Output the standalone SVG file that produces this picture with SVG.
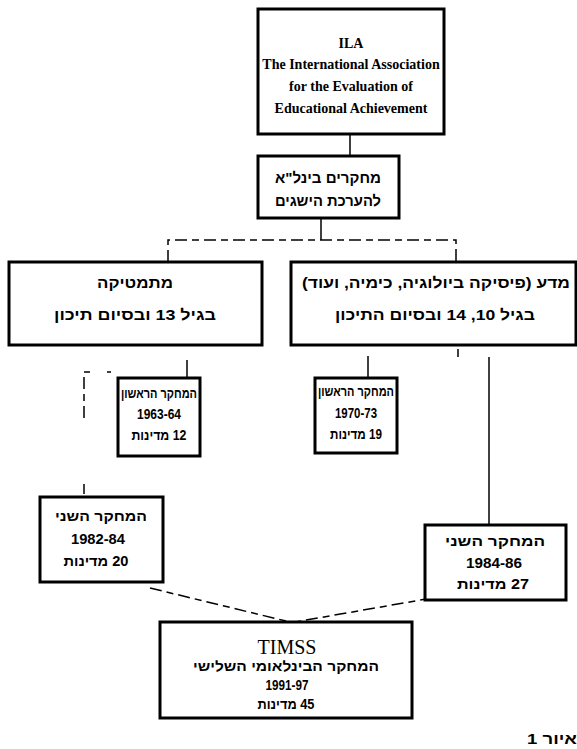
<svg xmlns="http://www.w3.org/2000/svg" width="577" height="749" viewBox="0 0 577 749">
<style>
.box{fill:#fff;stroke:#000;stroke-width:3}
.en{font-family:"Liberation Serif","DejaVu Serif",serif;font-size:14px;font-weight:bold;text-anchor:middle;fill:#000}
.he{font-family:"Liberation Sans","DejaVu Sans",sans-serif;font-size:15px;font-weight:bold;text-anchor:middle;fill:#000;direction:rtl}
.sm{font-size:14px}
.ln{fill:none;stroke:#000;stroke-width:1.5}
.dash{fill:none;stroke:#000;stroke-width:1.5;stroke-dasharray:12 5 7 5}
</style>
<g id="connectors">
<line class="ln" x1="350" y1="134" x2="350" y2="156"/>
<line class="ln" x1="321" y1="218" x2="321" y2="240"/>
<polyline class="dash" points="168,262 168,240 456,240 456,262"/>
<line class="ln" x1="187" y1="360" x2="187" y2="378"/>
<polyline class="dash" points="84,418 84,372 90,372"/>
<line class="ln" x1="107" y1="372" x2="111" y2="372"/>
<line class="ln" x1="368" y1="356" x2="368" y2="378"/>
<line class="ln" x1="458" y1="349" x2="458" y2="357"/>
<line class="ln" x1="489" y1="357" x2="489" y2="525"/>
<line class="ln" x1="84" y1="484" x2="84" y2="494"/>
<line class="dash" x1="150" y1="588" x2="290" y2="622"/>
<line class="dash" x1="432" y1="598" x2="295" y2="622"/>
</g>
<g id="ila">
<rect class="box" x="258" y="9" width="186" height="125"/>
<text class="en" x="351" y="48">ILA</text>
<text class="en" x="351" y="69">The International Association</text>
<text class="en" x="351" y="91">for the Evaluation of</text>
<text class="en" x="351" y="113">Educational Achievement</text>
</g>
<g id="studies">
<rect class="box" x="258" y="156" width="141" height="62"/>
<text class="he" x="328" y="183" textLength="106" lengthAdjust="spacingAndGlyphs">מחקרים בינל"א</text>
<text class="he" x="328" y="206" textLength="106" lengthAdjust="spacingAndGlyphs">להערכת הישגים</text>
</g>
<g id="math">
<rect class="box" x="9" y="262" width="253" height="83"/>
<text class="he" x="135" y="288" textLength="76" lengthAdjust="spacingAndGlyphs">מתמטיקה</text>
<text class="he" x="135" y="320" textLength="162" lengthAdjust="spacingAndGlyphs">בגיל 13 ובסיום תיכון</text>
</g>
<g id="science">
<rect class="box" x="291" y="262" width="285" height="83"/>
<text class="he" x="436" y="288" textLength="268" lengthAdjust="spacingAndGlyphs">מדע (פיסיקה ביולוגיה, כימיה, ועוד)</text>
<text class="he" x="435" y="320" textLength="200" lengthAdjust="spacingAndGlyphs">בגיל 10, 14 ובסיום התיכון</text>
</g>
<g id="math1">
<rect class="box" x="118" y="378" width="82" height="78"/>
<text class="he sm" x="159" y="398" textLength="76" lengthAdjust="spacingAndGlyphs">המחקר הראשון</text>
<text class="he sm" x="159" y="419" textLength="44" lengthAdjust="spacingAndGlyphs">1963-64</text>
<text class="he sm" x="159" y="440" textLength="55" lengthAdjust="spacingAndGlyphs">12 מדינות</text>
</g>
<g id="sci1">
<rect class="box" x="315" y="378" width="82" height="75"/>
<text class="he sm" x="356" y="396" textLength="76" lengthAdjust="spacingAndGlyphs">המחקר הראשון</text>
<text class="he sm" x="356" y="418" textLength="42" lengthAdjust="spacingAndGlyphs">1970-73</text>
<text class="he sm" x="356" y="439" textLength="52" lengthAdjust="spacingAndGlyphs">19 מדינות</text>
</g>
<g id="math2">
<rect class="box" x="40" y="497" width="123" height="85"/>
<text class="he sm" x="101" y="521" textLength="92" lengthAdjust="spacingAndGlyphs">המחקר השני</text>
<text class="he sm" x="98" y="544" textLength="54" lengthAdjust="spacingAndGlyphs">1982-84</text>
<text class="he sm" x="96" y="566" textLength="65" lengthAdjust="spacingAndGlyphs">20 מדינות</text>
</g>
<g id="sci2">
<rect class="box" x="425" y="525" width="141" height="75"/>
<text class="he sm" x="495" y="546" textLength="100" lengthAdjust="spacingAndGlyphs">המחקר השני</text>
<text class="he sm" x="494" y="568" textLength="56" lengthAdjust="spacingAndGlyphs">1984-86</text>
<text class="he sm" x="493" y="589" textLength="72" lengthAdjust="spacingAndGlyphs">27 מדינות</text>
</g>
<g id="timss">
<rect class="box" x="160" y="622" width="252" height="96"/>
<text class="en" x="287" y="654" style="font-size:20px;font-weight:normal">TIMSS</text>
<text class="he sm" x="286" y="671" textLength="186" lengthAdjust="spacingAndGlyphs">המחקר הבינלאומי השלישי</text>
<text class="he sm" x="287" y="690" textLength="43" lengthAdjust="spacingAndGlyphs">1991-97</text>
<text class="he sm" x="286" y="709" textLength="57" lengthAdjust="spacingAndGlyphs">45 מדינות</text>
</g>
<text class="he" x="552" y="744" textLength="50" lengthAdjust="spacingAndGlyphs">איור 1</text>
</svg>
